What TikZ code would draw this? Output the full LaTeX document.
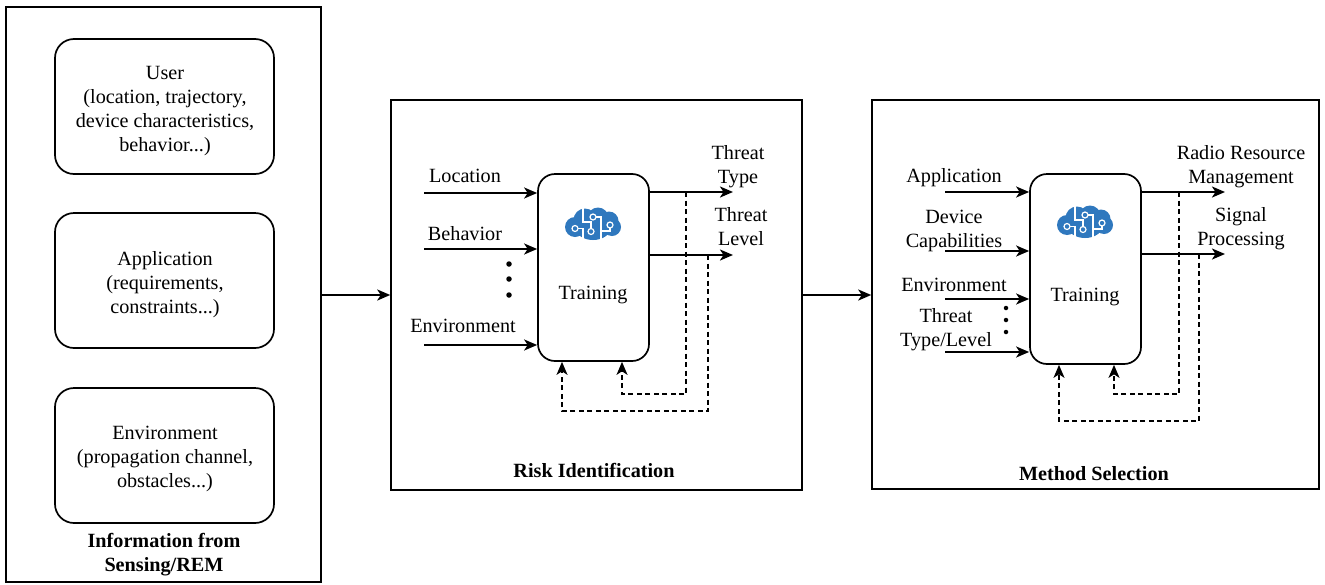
\documentclass[tikz,border=0pt]{standalone}
\usepackage{fontspec}
\setmainfont{Liberation Serif}
\usetikzlibrary{arrows.meta}
\definecolor{brainblue}{HTML}{2F78BE}
\tikzset{
  x=1pt,y=-1pt,
  infobox/.style={draw,line width=1.7pt,rounded corners=19pt,minimum width=219pt,minimum height=135pt,align=center,inner sep=0pt},
  trainbox/.style={draw,line width=1.7pt,rounded corners=17pt,minimum width=111pt,align=center,inner sep=0pt},
  lbl/.style={align=center,inner sep=0pt,font=\fontsize{20.2}{24}\selectfont},
  boldlbl/.style={lbl,font=\fontsize{20.2}{24}\selectfont\bfseries},
  flow/.style={line width=2pt,-{Stealth[length=13pt,width=11pt,inset=3.5pt]}},
  fb/.style={line width=1.5pt,dash pattern=on 5pt off 3.5pt,-{Stealth[length=13pt,width=11pt,inset=3.5pt]}},
  dotmark/.style={circle,fill=black,inner sep=0pt,minimum size=5.5pt},
  brain/.pic={
    \fill[brainblue] (-18,3) circle[radius=10] (-8,-4) circle[radius=11.5] (5,-6) circle[radius=10.5]
      (16,-3) circle[radius=9.5] (19,3) circle[radius=9] (0,3) ellipse[x radius=18,y radius=13];
    \draw[white,line width=1.2pt] (-18,4.5) -- (-10,4.5) -- (-10,16) (-10,-16) -- (-10,-2) -- (-2,-2) -- (-2,5)
      (3,-7) -- (8,-7) -- (8,16) (17,3) -- (17,7) -- (8,7);
    \draw[white,line width=1.2pt,fill=brainblue] (-18,4.5) circle[radius=3] (-2,7.5) circle[radius=3]
      (0,-7) circle[radius=3] (17,1) circle[radius=3];
  }
}
\begin{document}
\begin{tikzpicture}
\useasboundingbox[fill=white] (0,0) rectangle (1325,584);
% panels
\node[draw,line width=1.5pt,minimum width=315pt,minimum height=575pt,inner sep=0pt] (info) at (163.5,294.5) {};
\node[draw,line width=1.5pt,minimum width=411pt,minimum height=390pt,inner sep=0pt] (risk) at (596.5,295) {};
\node[draw,line width=1.5pt,minimum width=447pt,minimum height=389pt,inner sep=0pt] (method) at (1095.5,294.5) {};
% info boxes
\node[infobox] (user) at (164.5,106.5) {};
\node[infobox] (app) at (164.5,280.5) {};
\node[infobox] (env) at (164.5,455.5) {};
\node[lbl] (usertxt) at (165,111) {User\\(location, trajectory,\\device characteristics,\\behavior...)};
\node[lbl] (apptxt) at (165,285) {Application\\(requirements,\\constraints...)};
\node[lbl] (envtxt) at (165,459) {Environment\\(propagation channel,\\obstacles...)};
\node[boldlbl] (infotxt) at (164,555) {Information from\\Sensing/REM};
% between panels
\draw[flow] (info.east |- risk.west) -- (risk.west);
\draw[flow] (risk.east) -- (method.west |- risk.east);
% risk
\node[trainbox,minimum height=187pt] (t1) at (593.5,267.5) {};
\pic at (593,224) {brain};
\node[lbl] (t1txt) at (593,295) {Training};
\coordinate (r1) at (424,193); \coordinate (r2) at (424,249); \coordinate (r3) at (424,345);
\draw[flow] (r1) -- (r1 -| t1.west);
\draw[flow] (r2) -- (r2 -| t1.west);
\draw[flow] (r3) -- (r3 -| t1.west);
\node[lbl] (rl1) at (465,176) {Location};
\node[lbl] (rl2) at (465,234) {Behavior};
\node[lbl] (rl3) at (463,326) {Environment};
\node[dotmark] (rd1) at (509,264) {};
\node[dotmark] (rd2) at (509,279) {};
\node[dotmark] (rd3) at (509,295) {};
\coordinate (ro1) at (733,192); \coordinate (ro2) at (733,255);
\draw[flow] (ro1 -| t1.east) -- (ro1);
\draw[flow] (ro2 -| t1.east) -- (ro2);
\node[lbl] (rt1) at (738,167) {Threat\\Type};
\node[lbl] (rt2) at (741,227) {Threat\\Level};
\coordinate (rf1) at (686,192); \coordinate (rf1b) at (686,394); \coordinate (rf1c) at (622,394);
\coordinate (rf2) at (708,255); \coordinate (rf2b) at (708,411); \coordinate (rf2c) at (562,411);
\draw[fb] (rf1) -- (rf1b) -- (rf1c) -- (rf1c |- t1.south);
\draw[fb] (rf2) -- (rf2b) -- (rf2c) -- (rf2c |- t1.south);
\node[boldlbl] (risktxt) at (594,470) {Risk Identification};
% method
\node[trainbox,minimum height=190pt] (t2) at (1085.5,269) {};
\pic at (1085,222) {brain};
\node[lbl] (t2txt) at (1085,296.5) {Training};
\coordinate (m1) at (945,192); \coordinate (m2) at (945,251); \coordinate (m3) at (945,299); \coordinate (m4) at (945,352);
\draw[flow] (m1) -- (m1 -| t2.west);
\draw[flow] (m2) -- (m2 -| t2.west);
\draw[flow] (m3) -- (m3 -| t2.west);
\draw[flow] (m4) -- (m4 -| t2.west);
\node[lbl] (ml1) at (954,178) {Application};
\node[lbl] (ml2) at (954,231) {Device\\Capabilities};
\node[lbl] (ml3) at (954,284.5) {Environment};
\node[lbl] (ml4) at (946,330) {Threat\\Type/Level};
\node[dotmark,minimum size=4.5pt] (md1) at (1006,308) {};
\node[dotmark,minimum size=4.5pt] (md2) at (1006,320) {};
\node[dotmark,minimum size=4.5pt] (md3) at (1006,332) {};
\coordinate (mo1) at (1225,192); \coordinate (mo2) at (1225,254);
\draw[flow] (mo1 -| t2.east) -- (mo1);
\draw[flow] (mo2 -| t2.east) -- (mo2);
\node[lbl] (mt1) at (1241,167) {Radio Resource\\Management};
\node[lbl] (mt2) at (1241,229) {Signal\\Processing};
\coordinate (mf1) at (1179,192); \coordinate (mf1b) at (1179,394); \coordinate (mf1c) at (1114,394);
\coordinate (mf2) at (1199,254); \coordinate (mf2b) at (1199,421); \coordinate (mf2c) at (1059,421);
\draw[fb] (mf1) -- (mf1b) -- (mf1c) -- (mf1c |- t2.south);
\draw[fb] (mf2) -- (mf2b) -- (mf2c) -- (mf2c |- t2.south);
\node[boldlbl] (methodtxt) at (1094,473.5) {Method Selection};
\end{tikzpicture}
\end{document}
